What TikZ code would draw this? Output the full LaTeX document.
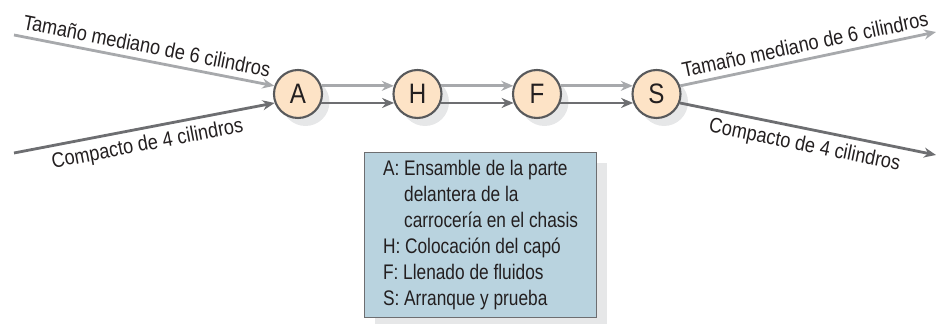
\documentclass[tikz,border=0pt]{standalone}
\usepackage{fontspec}
\setsansfont{Liberation Sans}[FakeStretch=0.86]
\newfontfamily\legendfont{Liberation Sans}[FakeStretch=0.82]
\usepackage{xcolor}
\definecolor{stageFill}{HTML}{FDE3C6}
\definecolor{stageLine}{HTML}{58595B}
\definecolor{shadowGray}{HTML}{E6E7E8}
\definecolor{flowLight}{HTML}{A7A9AC}
\definecolor{flowDark}{HTML}{6D6E71}
\definecolor{legendBlue}{HTML}{B9D3DF}
\definecolor{darkText}{HTML}{231F20}
\usepackage{tikz}
\usetikzlibrary{
    arrows.meta,
    shadows,
    positioning
}
\tikzset{
    % Station circles - peach fill with flat grey shadow
    stage/.style={
        circle,
        draw=stageLine,
        line width=1.2pt,
        fill=stageFill,
        minimum size=0.96cm,
        inner sep=0pt,
        text=darkText,
        font=\sffamily\fontsize{16}{18}\selectfont,
        drop shadow={
            shadow xshift=1.5mm,
            shadow yshift=-1.6mm,
            fill=shadowGray,
            opacity=1
        },
    },
    % Flow arrows
    flow/.style={
        -{Stealth[length=2.4mm, width=2mm]},
        line width=1.6pt,
    },
    flow light/.style={
        flow,
        draw=flowLight,
    },
    flow dark/.style={
        flow,
        draw=flowDark,
    },
    % Text along the incoming/outgoing lines
    line label/.style={
        sloped,
        text=darkText,
        font=\sffamily\fontsize{12}{14}\selectfont,
    },
    % Legend box
    legend box/.style={
        anchor=north west,
        draw=flowDark,
        line width=0.6pt,
        fill=legendBlue,
        text=darkText,
        align=left,
        inner xsep=0.37cm,
        minimum height=3.3cm,
        font=\legendfont\fontsize{12}{14.8}\selectfont,
        drop shadow={
            shadow xshift=2mm,
            shadow yshift=-2mm,
            fill=shadowGray,
            opacity=1
        },
    },
}

\begin{document}
\begin{tikzpicture}[node distance=2.39cm]
    \useasboundingbox (0,0) rectangle (18.74,6.48);

    % stations
    \node (A) [stage] at (5.96,4.6) {A};
    \node (H) [stage, right of=A] {H};
    \node (F) [stage, right of=H] {F};
    \node (S) [stage, right of=F] {S};

    % free ends of the model lines
    \coordinate (in6) at (0.28,5.78);
    \coordinate (in4) at (0.28,3.42);
    \coordinate (out6) at (18.72,5.84);
    \coordinate (out4) at (18.72,3.38);

    \draw [flow light] (in6) -- node [line label, above] {Tamaño mediano de 6 cilindros} (A.161);
    \draw [flow dark] (in4) -- node [line label, below] {Compacto de 4 cilindros} (A.201);

    \draw [flow light] (A.19) -- (H.161);
    \draw [flow dark] (A.-21) -- (H.201);
    \draw [flow light] (H.19) -- (F.161);
    \draw [flow dark] (H.-21) -- (F.201);
    \draw [flow light] (F.19) -- (S.161);
    \draw [flow dark] (F.-21) -- (S.201);

    \draw [flow light] (S.19) -- node [line label, above] {Tamaño mediano de 6 cilindros} (out6);
    \draw [flow dark] (S.-21) -- node [line label, below] {Compacto de 4 cilindros} (out4);

    % legend
    \node (legend) [legend box] at (7.28,3.44) {A: Ensamble de la parte\\
        \phantom{A: }delantera de la\\
        \phantom{A: }carrocería en el chasis\\
        H: Colocación del capó\\
        F: Llenado de fluidos\\
        S: Arranque y prueba};
\end{tikzpicture}
\end{document}
